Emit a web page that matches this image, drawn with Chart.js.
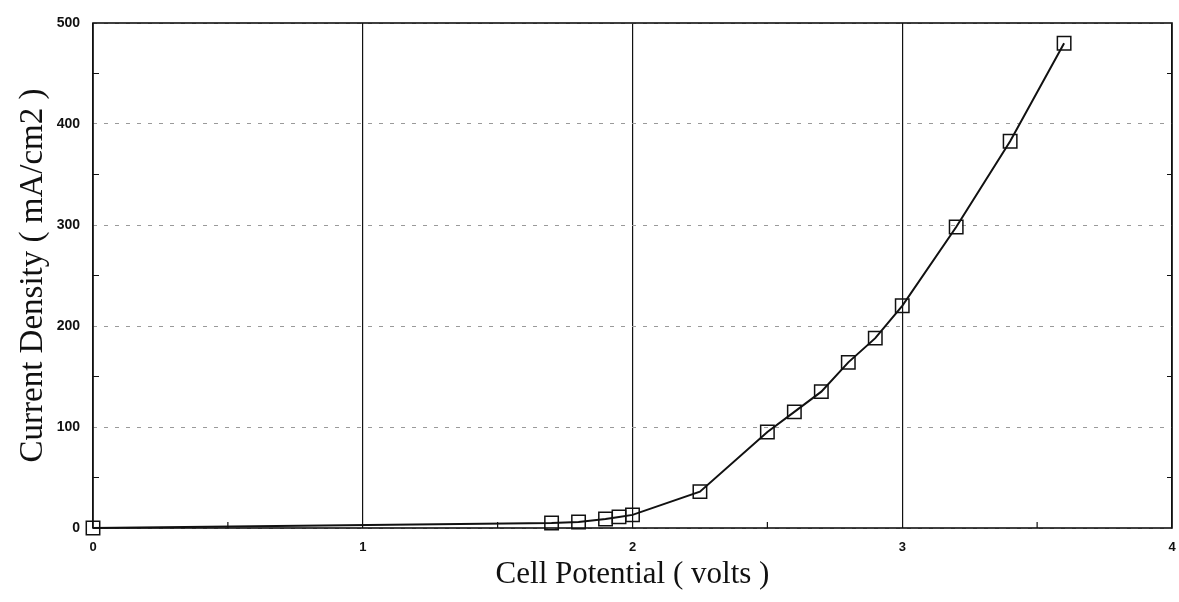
<!DOCTYPE html>
<html>
<head>
<meta charset="utf-8">
<title>Current Density vs Cell Potential</title>
<script src="https://cdn.jsdelivr.net/npm/chart.js@4.4.0/dist/chart.umd.min.js"></script>
<style>
    html, body { margin: 0; padding: 0; background: #fff; }
    #chart { display: block; }
</style>
</head>
<body>
<canvas id="chart" width="1179" height="602"></canvas>
<script>
// Cell potential (volts) and measured current density (mA/cm2)
const potentials = [0, 1.7, 1.8, 1.9, 1.95, 2.0, 2.25, 2.5, 2.6, 2.7, 2.8, 2.9, 3.0, 3.2, 3.4, 3.6];
const currents = [0, 5, 6, 9, 11, 13, 36, 95, 115, 135, 164, 188, 220, 298, 383, 480];

// Axis ranges and small inward tick marks
const xTicks = [0, 1, 2, 3, 4];
const yTicks = [0, 100, 200, 300, 400, 500];
const xMinorTicks = [0.5, 1.5, 2.5, 3.5];
const yMinorTicks = [50, 150, 250, 350, 450];

const points = potentials.map((v, i) => ({ x: v, y: currents[i] }));

// Frame round the plot and the little inward ticks
const frameAndTicks = {
    id: 'frameAndTicks',
    afterDatasetsDraw(chart) {
        const { ctx, chartArea: a, scales: { x, y } } = chart;
        ctx.save();
        ctx.strokeStyle = '#111';
        ctx.lineWidth = 1.6;
        ctx.strokeRect(a.left, a.top, a.right - a.left, a.bottom - a.top);

        ctx.lineWidth = 1.2;
        ctx.beginPath();
        xMinorTicks.forEach(v => {
            const px = x.getPixelForValue(v);
            ctx.moveTo(px, a.bottom);
            ctx.lineTo(px, a.bottom - 6);
        });
        yMinorTicks.forEach(v => {
            const py = y.getPixelForValue(v);
            ctx.moveTo(a.left, py);
            ctx.lineTo(a.left + 6, py);
            ctx.moveTo(a.right, py);
            ctx.lineTo(a.right - 5, py);
        });
        ctx.stroke();
        ctx.restore();
    }
};

const ctx = document.getElementById('chart').getContext('2d');

new Chart(ctx, {
    type: 'scatter',
    data: {
        datasets: [{
            data: points,
            showLine: true,
            borderColor: '#111',
            borderWidth: 2,
            tension: 0,
            pointStyle: 'rect',
            pointRadius: 9.5,
            pointBorderWidth: 1.5,
            pointBorderColor: '#111',
            pointBackgroundColor: 'rgba(0,0,0,0)',
            clip: false
        }]
    },
    options: {
        responsive: false,
        animation: false,
        layout: {
            autoPadding: false,
            padding: { left: 0, right: 7, top: 23, bottom: 0 }
        },
        plugins: {
            legend: { display: false },
            tooltip: { enabled: false }
        },
        scales: {
            x: {
                type: 'linear',
                min: xTicks[0],
                max: xTicks[xTicks.length - 1],
                afterBuildTicks: s => { s.ticks = xTicks.map(v => ({ value: v })); },
                afterFit: s => {
                    s.height = 74;
                    s.paddingLeft = 0;
                    s.paddingRight = 0;
                },
                grid: {
                    color: '#111',
                    lineWidth: 1.2,
                    drawTicks: false
                },
                border: { display: false },
                ticks: {
                    padding: 12,
                    color: '#111',
                    font: { family: 'Liberation Sans', size: 13, weight: 'bold' }
                },
                title: {
                    display: true,
                    text: 'Cell Potential ( volts )',
                    color: '#111',
                    padding: { top: 0, bottom: 9 },
                    font: { family: 'Liberation Serif', size: 31 }
                }
            },
            y: {
                type: 'linear',
                min: yTicks[0],
                max: yTicks[yTicks.length - 1],
                afterBuildTicks: s => { s.ticks = yTicks.map(v => ({ value: v })); },
                afterFit: s => {
                    s.width = 93;
                    s.paddingTop = 0;
                    s.paddingBottom = 0;
                },
                grid: {
                    color: '#9a9a9a',
                    lineWidth: 1,
                    drawTicks: false
                },
                border: { display: false, dash: [4, 7] },
                ticks: {
                    padding: 13,
                    color: '#111',
                    font: { family: 'Liberation Sans', size: 14, weight: 'bold' }
                },
                title: {
                    display: true,
                    text: 'Current Density ( mA/cm2 )',
                    color: '#111',
                    padding: { top: 14, bottom: 0 },
                    font: { family: 'Liberation Serif', size: 33 }
                }
            }
        }
    },
    plugins: [frameAndTicks]
});
</script>
</body>
</html>
